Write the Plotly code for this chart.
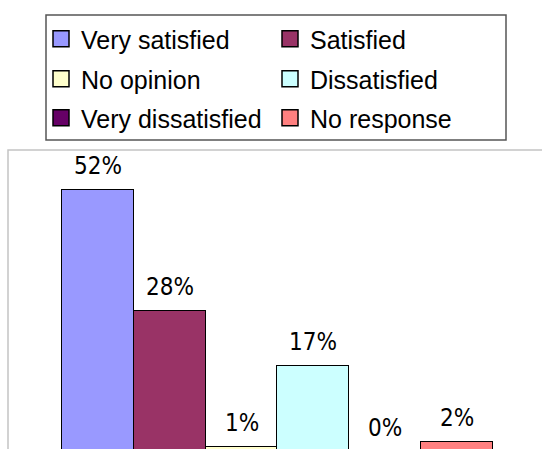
import plotly.graph_objects as go

categories = ["Very satisfied", "Satisfied", "No opinion",
              "Dissatisfied", "Very dissatisfied", "No response"]
values = [52, 28, 1, 17, 0, 2]
colors = ["#9999FF", "#993366", "#FFFFCC", "#CCFFFF", "#660066", "#FF8080"]
legend_rows = ["legend", "legend", "legend2", "legend2", "legend3", "legend3"]

W, H = 542, 449
ML, MR, MT, MB = 8, 0, 150, 0
PW, PH = W - ML - MR, H - MT - MB


def px_x(p):
    return (p - ML) / PW


def px_y(p):
    return (H - MB - p) / PH


LABEL_FONT = "DejaVu Sans Condensed, Liberation Sans, sans-serif"
LEGEND_FONT = "Liberation Sans, Arial, sans-serif"

# value axis: baseline at ~452px, ~5.03px per percent (plot area ends at 449px)
y_per_px = 1 / 5.03
y_range = [(452 - (H - MB)) * y_per_px, (452 - MT) * y_per_px]


def y_to_paper(v):
    return (v - y_range[0]) / (y_range[1] - y_range[0])


fig = go.Figure()
for cat, val, col in zip(categories, values, colors):
    fig.add_trace(go.Bar(
        x=[cat], y=[val], name=cat, legendgroup=cat, showlegend=False,
        marker=dict(color=col, line=dict(color="black", width=1.5)),
        hoverinfo="skip",
    ))
# legend entries (square swatches)
for cat, col, lg in zip(categories, colors, legend_rows):
    fig.add_trace(go.Scatter(
        x=[None], y=[None], mode="markers", name=cat, legendgroup=cat, legend=lg,
        marker=dict(symbol="square", size=16, color=col,
                    line=dict(color="black", width=1.5)),
        hoverinfo="skip",
    ))

for cat, val in zip(categories, values):
    fig.add_annotation(
        x=cat, y=y_to_paper(val), text=f"{val}%", showarrow=False,
        xref="x", yref="paper", yanchor="bottom", yshift=8,
        font=dict(family=LABEL_FONT, size=24, color="black"),
    )

legend_common = dict(
    orientation="h", xanchor="left", yanchor="top",
    bgcolor="rgba(0,0,0,0)", borderwidth=0,
    font=dict(family=LEGEND_FONT, size=25, color="black"),
    entrywidth=184, entrywidthmode="pixels", traceorder="normal",
    itemsizing="trace",
)
row_tops = [16, 56, 95]
fig.update_layout(
    legend=dict(x=px_x(41), y=px_y(row_tops[0]), **legend_common),
    legend2=dict(x=px_x(41), y=px_y(row_tops[1]), **legend_common),
    legend3=dict(x=px_x(41), y=px_y(row_tops[2]), **legend_common),
)

# chart area border and legend box
fig.add_shape(type="rect", xref="paper", yref="paper",
              x0=px_x(8), x1=px_x(560), y0=px_y(470), y1=px_y(150),
              line=dict(color="#c4c4c4", width=1.5), layer="below")
fig.add_shape(type="rect", xref="paper", yref="paper",
              x0=px_x(46), x1=px_x(506), y0=px_y(140), y1=px_y(15),
              line=dict(color="#555555", width=1.5), fillcolor="rgba(0,0,0,0)")

fig.update_yaxes(range=y_range, visible=False, showgrid=False, zeroline=False)
# bar unit ~71.83px, first bar starts at 62px
unit = 71.83
x0 = -0.5 - (62 - ML) / unit
fig.update_xaxes(type="category", categoryorder="array", categoryarray=categories,
                 range=[x0, x0 + PW / unit], visible=False,
                 showgrid=False, zeroline=False)

fig.update_layout(
    width=W, height=H, barmode="stack", bargap=0,
    margin=dict(l=ML, r=MR, t=MT, b=MB, pad=0),
    paper_bgcolor="white", plot_bgcolor="white",
    showlegend=True,
)
fig.write_html("out.html")
